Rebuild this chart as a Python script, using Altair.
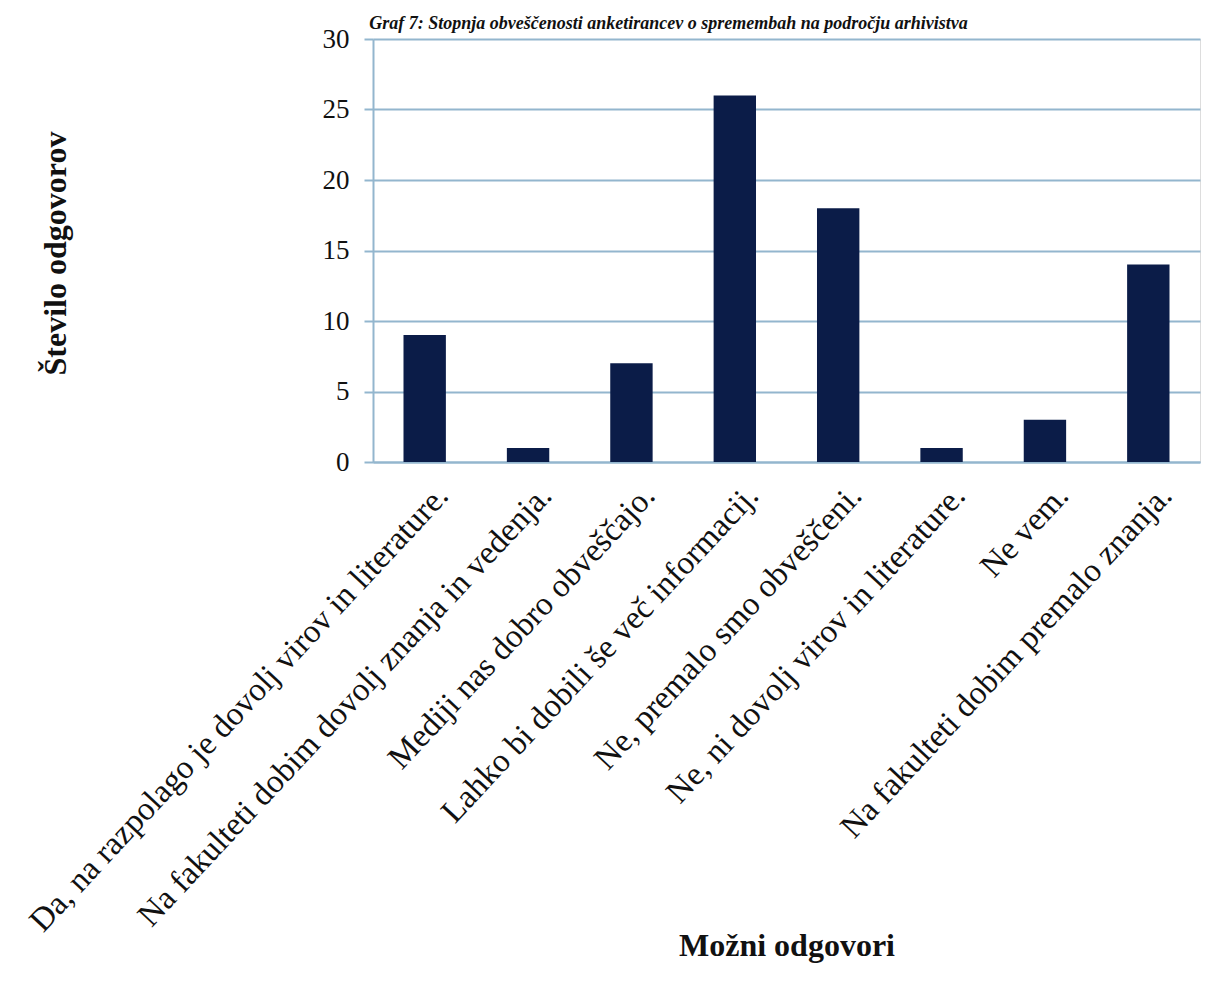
import altair as alt
import pandas as pd

categories = [
    "Da, na razpolago je dovolj virov in literature.",
    "Na fakulteti dobim dovolj znanja in vedenja.",
    "Mediji nas dobro obveščajo.",
    "Lahko bi dobili še več informacij.",
    "Ne, premalo smo obveščeni.",
    "Ne, ni dovolj virov in literature.",
    "Ne vem.",
    "Na fakulteti dobim premalo znanja.",
]
counts = [9, 1, 7, 26, 18, 1, 3, 14]
y_ticks = [0, 5, 10, 15, 20, 25, 30]

title_text = "Graf 7: Stopnja obveščenosti anketirancev o spremembah na področju arhivistva"
x_title = "Možni odgovori"
y_title = "Število odgovorov"

df = pd.DataFrame({"odgovor": categories, "stevilo": counts})

SERIF = "Liberation Serif"
GRID = "#93B6CE"

chart = (
    alt.Chart(df)
    .mark_bar(color="#0B1C48")
    .encode(
        x=alt.X(
            "odgovor:N",
            sort=categories,
            title=x_title,
            scale=alt.Scale(paddingInner=0.59, paddingOuter=0.295),
            axis=alt.Axis(
                labelAngle=-47,
                labelAlign="right",
                labelBaseline="middle",
                labelFont=SERIF,
                labelFontSize=33,
                labelColor="#111111",
                labelLimit=2000,
                labelPadding=28,
                labelOffset=18,
                ticks=False,
                domain=True,
                domainColor=GRID,
                domainWidth=2,
                titleFont=SERIF,
                titleFontSize=32,
                titleFontWeight="bold",
                titleColor="#111111",
                titleBaseline="alphabetic",
                titleY=493,
                labelOverlap=False,
            ),
        ),
        y=alt.Y(
            "stevilo:Q",
            title=y_title,
            scale=alt.Scale(domain=[0, 30], nice=False),
            axis=alt.Axis(
                values=y_ticks,
                grid=True,
                gridColor=GRID,
                gridWidth=2,
                domain=True,
                domainColor=GRID,
                domainWidth=2,
                ticks=True,
                tickColor=GRID,
                tickSize=9,
                tickWidth=2,
                labelFont=SERIF,
                labelFontSize=27,
                labelColor="#111111",
                labelPadding=15,
                titleFont=SERIF,
                titleFontSize=32,
                titleFontWeight="bold",
                titleColor="#111111",
                titleAngle=-90,
                titleBaseline="middle",
                titleX=-318,
                titleY=214,
            ),
        ),
    )
    .properties(
        width=827,
        height=423,
        padding={"left": 365, "top": 31, "right": 7, "bottom": 517},
        autosize=alt.AutoSizeParams(type="none"),
        title=alt.TitleParams(
            text=title_text,
            font=SERIF,
            fontSize=18,
            fontWeight="bold",
            fontStyle="italic",
            color="#111111",
            anchor="middle",
            baseline="alphabetic",
            dx=-118,
            dy=42,
            offset=20,
        ),
    )
    .configure_view(stroke=None)
    .configure(background="white")
)

chart.save("out.html", embed_options={"renderer": "svg", "actions": False})
